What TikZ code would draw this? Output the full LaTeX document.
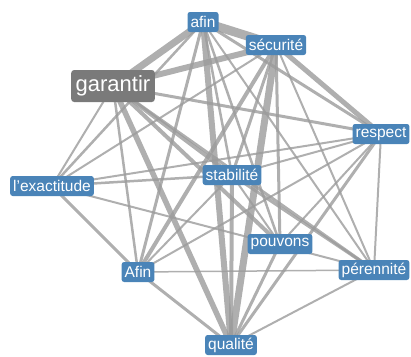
\documentclass[tikz,border=0pt]{standalone}
\usepackage{fontspec}
\setmainfont{Liberation Sans}
\usetikzlibrary{backgrounds}
\definecolor{nodeblue}{RGB}{74,132,184}
\definecolor{nodegray}{RGB}{122,122,122}
\definecolor{edgegray}{RGB}{155,155,155}
\tikzset{
  word/.style={fill=nodeblue, text=white, rounded corners=2.5pt, inner xsep=3pt, inner ysep=2pt, font=\fontsize{15.5}{16}\selectfont, minimum height=20pt},
  bigword/.style={fill=nodegray, text=white, rounded corners=3pt, inner xsep=4.5pt, inner ysep=3pt, font=\fontsize{22}{23}\selectfont, minimum height=32pt},
  link/.style={draw=edgegray, draw opacity=0.8, line width=#1},
}
\begin{document}
\begin{tikzpicture}[x=1pt,y=-1pt]
\useasboundingbox (0,0) rectangle (411,356);
\node[word] (afin) at (203,22) {afin};
\node[word] (secu) at (276,45) {sécurité};
\node[bigword] (gar) at (113,86) {garantir};
\node[word] (resp) at (381,134) {respect};
\node[word] (exac) at (52,186) {l'exactitude};
\node[word] (stab) at (232,175) {stabilité};
\node[word] (pouv) at (280,244) {pouvons};
\node[word] (pere) at (374,270) {pérennité};
\node[word] (Afin) at (138,272) {Afin};
\node[word] (qual) at (231,345) {qualité};
\begin{pgfonlayer}{background}
\foreach \a/\b/\w in {
  afin/secu/9, afin/gar/7, gar/secu/6, afin/qual/6, gar/qual/5.5, secu/qual/7,
  secu/resp/5, gar/stab/4, gar/pouv/4, gar/pere/3, gar/resp/3, gar/Afin/2.5,
  gar/exac/2, afin/resp/3, afin/stab/2.5, afin/pouv/2.5, afin/pere/2, afin/Afin/3,
  afin/exac/2.5, secu/stab/3, secu/pouv/3, secu/pere/2, secu/Afin/4, secu/exac/2,
  resp/stab/2, resp/exac/2, resp/Afin/2, resp/pouv/2, resp/pere/2, resp/qual/3,
  exac/stab/2.5, exac/Afin/3, exac/pere/2, stab/qual/4, stab/Afin/2, stab/pouv/2,
  stab/pere/3, pouv/qual/3, Afin/pere/1.5, Afin/qual/3, pere/qual/2}
  \draw[link=\w pt] (\a.center) -- (\b.center);
\end{pgfonlayer}
\end{tikzpicture}
\end{document}
